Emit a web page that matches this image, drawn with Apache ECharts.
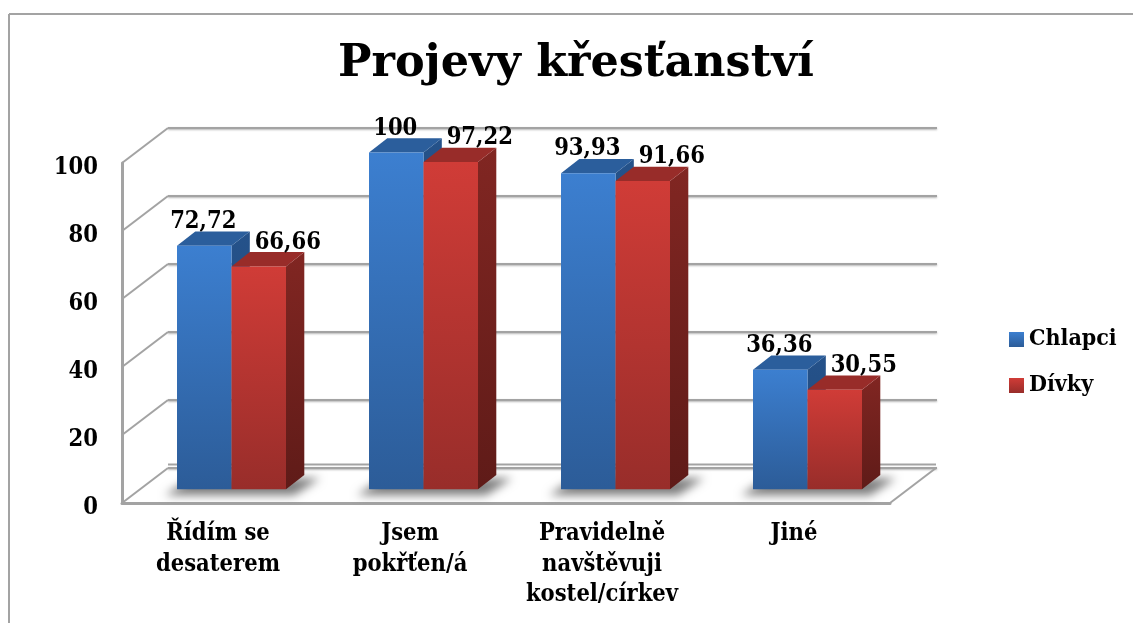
<!DOCTYPE html>
<html>
<head>
<meta charset="utf-8">
<style>html,body{margin:0;padding:0;background:#fff}#c{width:1133px;height:623px}</style>
<script src="https://cdn.jsdelivr.net/npm/echarts@6/dist/echarts.min.js"></script>
</head>
<body>
<div id="c"></div>
<script>
const titleText = 'Projevy křesťanství';
const categories = ['Řídím se\ndesaterem', 'Jsem\npokřťen/á', 'Pravidelně\nnavštěvuji\nkostel/církev', 'Jiné'];
const chlapci = [72.72, 100, 93.93, 36.36];
const divky = [66.66, 97.22, 91.66, 30.55];
const wallTicks = [0, 20, 40, 60, 80, 100];

const FONT = '"DejaVu Serif Condensed", "DejaVu Serif", serif';
const LINE = '#a3a3a3';
const wallDepth = [46, -35];   // front plane -> back wall, in px
const barDepth = [18.3, -14.3];
const barFrac = 54.5 / 192;
const floorValue = 1.38;       // bars stand on the floor slightly above the axis zero
const OFF = 3000;              // shadow-only trick: shape is off-canvas, only its blur shows

function grad(a, b) {
  return { type: 'linear', x: 0, y: 0, x2: 0, y2: 1, colorStops: [{ offset: 0, color: a }, { offset: 1, color: b }] };
}
const lineShadow = { shadowColor: 'rgba(120,120,120,.55)', shadowBlur: 2, shadowOffsetY: 1 };

function barSeries(name, values, sign, colors, labelDx, labelDy) {
  return {
    name, type: 'custom', xAxisIndex: 2, yAxisIndex: 2, z: 5,
    itemStyle: { color: grad(colors.front[0], colors.front[1]) },
    encode: { x: 0, y: 1 },
    clip: false,
    data: values.map((v, i) => [i, v]),
    renderItem(params, api) {
      const v = api.value(1);
      const w = api.size([1, 0])[0] * barFrac;
      const top = api.coord([api.value(0), v]);
      const base = api.coord([api.value(0), floorValue]);
      const x0 = sign < 0 ? top[0] - w : top[0];
      const x1 = x0 + w, y0 = top[1], y1 = base[1];
      const dx = barDepth[0], dy = barDepth[1];
      return {
        type: 'group',
        children: [
          { type: 'polygon', shape: { points: [[x1, y0], [x1 + dx, y0 + dy], [x1 + dx, y1 + dy], [x1, y1]] },
            style: { fill: grad(colors.side[0], colors.side[1]) } },
          { type: 'polygon', shape: { points: [[x0, y0], [x0 + dx, y0 + dy], [x1 + dx, y0 + dy], [x1, y0]] },
            style: { fill: colors.top } },
          { type: 'rect', shape: { x: x0, y: y0, width: w, height: y1 - y0 },
            style: { fill: grad(colors.front[0], colors.front[1]) } },
          { type: 'text', z2: 50, style: {
              text: String(v).replace('.', ','), x: (x0 + x1) / 2 + labelDx, y: y0 + labelDy,
              align: 'center', verticalAlign: 'bottom', fill: '#000',
              font: 'bold 23.5px ' + FONT } }
        ]
      };
    }
  };
}

const option = {
  animation: false,
  backgroundColor: '#fff',
  title: {
    text: titleText, left: 571, top: 37, textAlign: 'center',
    textStyle: { fontFamily: '"DejaVu Serif", serif', fontWeight: 'bold', fontSize: 44.5, color: '#000' }
  },
  legend: {
    orient: 'vertical', left: 1009, top: 328, padding: 0, itemWidth: 15, itemHeight: 15, itemGap: 23,
    icon: 'rect', data: ['Chlapci', 'Dívky'], itemStyle: { borderWidth: 0 },
    textStyle: { fontFamily: FONT, fontWeight: 'bold', fontSize: 23, color: '#000' }
  },
  grid: [
    { left: 122, top: 163, width: 768, height: 340 },   // front plane
    { left: 168, top: 128, width: 769, height: 340 },   // back wall
    { left: 135.5, top: 152.6, width: 768, height: 341.4 } // bars plane
  ],
  xAxis: [
    { gridIndex: 0, type: 'category', data: categories,
      axisLine: { lineStyle: { color: LINE, width: 3 } }, axisTick: { show: false },
      axisLabel: { color: '#000', fontFamily: FONT, fontWeight: 'bold', fontSize: 23.5, lineHeight: 30.5, margin: 16, interval: 0, align: 'center', verticalAlign: 'top' } },
    { gridIndex: 1, type: 'category', data: categories, show: false },
    { gridIndex: 2, type: 'category', data: categories, show: false }
  ],
  yAxis: [
    { gridIndex: 0, type: 'value', min: 0, max: 100, interval: 20,
      axisLine: { show: true, lineStyle: { color: LINE, width: 3 } }, axisTick: { show: false }, splitLine: { show: false },
      axisLabel: { color: '#000', margin: 24, formatter: '{v|{value}}',
        rich: { v: { color: '#000', fontFamily: FONT, fontWeight: 'bold', fontSize: 23.5, padding: [9, 0, 0, 0] } } } },
    { gridIndex: 1, type: 'value', min: 0, max: 100, interval: 20,
      axisLine: { show: false }, axisTick: { show: false }, axisLabel: { show: false },
      splitLine: { show: true, lineStyle: Object.assign({ color: LINE, width: 2 }, lineShadow) } },
    { gridIndex: 2, type: 'value', min: 0, max: 100, show: false, splitLine: { show: false } }
  ],
  graphic: [
    { type: 'line', shape: { x1: 9, y1: 14, x2: 1133, y2: 14 }, style: { stroke: LINE, lineWidth: 2 } },
    { type: 'line', shape: { x1: 9, y1: 14, x2: 9, y2: 623 }, style: { stroke: LINE, lineWidth: 2 } }
  ],
  series: [
    { // side-wall diagonals at each tick, and the floor's right edge
      type: 'custom', name: 'walls', xAxisIndex: 0, yAxisIndex: 0, z: 2, silent: true, clip: false,
      data: wallTicks.map(v => [0, v]), encode: { x: 0, y: 1 },
      renderItem(params, api) {
        const cs = params.coordSys;
        const y = api.coord([0, api.value(1)])[1];
        const children = [{ type: 'line', shape: { x1: cs.x, y1: y, x2: cs.x + wallDepth[0], y2: y + wallDepth[1] },
          style: { stroke: LINE, lineWidth: 2 } }];
        if (api.value(1) === 0) {
          children.push({ type: 'line', shape: { x1: cs.x + cs.width, y1: y, x2: cs.x + cs.width + wallDepth[0], y2: y + wallDepth[1] },
            style: { stroke: LINE, lineWidth: 2 } });
          children.push({ type: 'line', shape: { x1: cs.x + wallDepth[0], y1: y + wallDepth[1] - 3.5, x2: cs.x + cs.width + wallDepth[0], y2: y + wallDepth[1] - 3.5 },
            style: { stroke: LINE, lineWidth: 2 } });
        }
        return { type: 'group', children };
      }
    },
    { // soft shadow of every bar pair on the floor
      type: 'custom', name: 'shadow', xAxisIndex: 2, yAxisIndex: 2, z: 3, silent: true, clip: false,
      data: categories.map((c, i) => [i, 0]), encode: { x: 0, y: 1 },
      renderItem(params, api) {
        const c = api.coord([api.value(0), floorValue]);
        const w = api.size([1, 0])[0] * barFrac;
        const pts = [[c[0] - w - 12, c[1] + 6], [c[0] + w + 8, c[1] + 6], [c[0] + w + 34, c[1] - 11], [c[0] - w + 14, c[1] - 11]];
        return { type: 'polygon', shape: { points: pts.map(p => [p[0] - OFF, p[1]]) },
          style: { fill: '#000', shadowColor: 'rgba(125,125,125,1)', shadowBlur: 10, shadowOffsetX: OFF } };
      }
    },
    barSeries('Chlapci', chlapci, -1, { front: ['#3c7fd0', '#2c5c98'], top: '#2b5e9c', side: ['#25528a', '#1f4678'] }, -1, -12),
    barSeries('Dívky', divky, 1, { front: ['#d03c37', '#982d2a'], top: '#982c29', side: ['#812622', '#5f1b18'] }, 29, -12)
  ]
};
const chart = echarts.init(document.getElementById('c'), null, { renderer: 'canvas' });
chart.setOption(option);
</script>
</body>
</html>
